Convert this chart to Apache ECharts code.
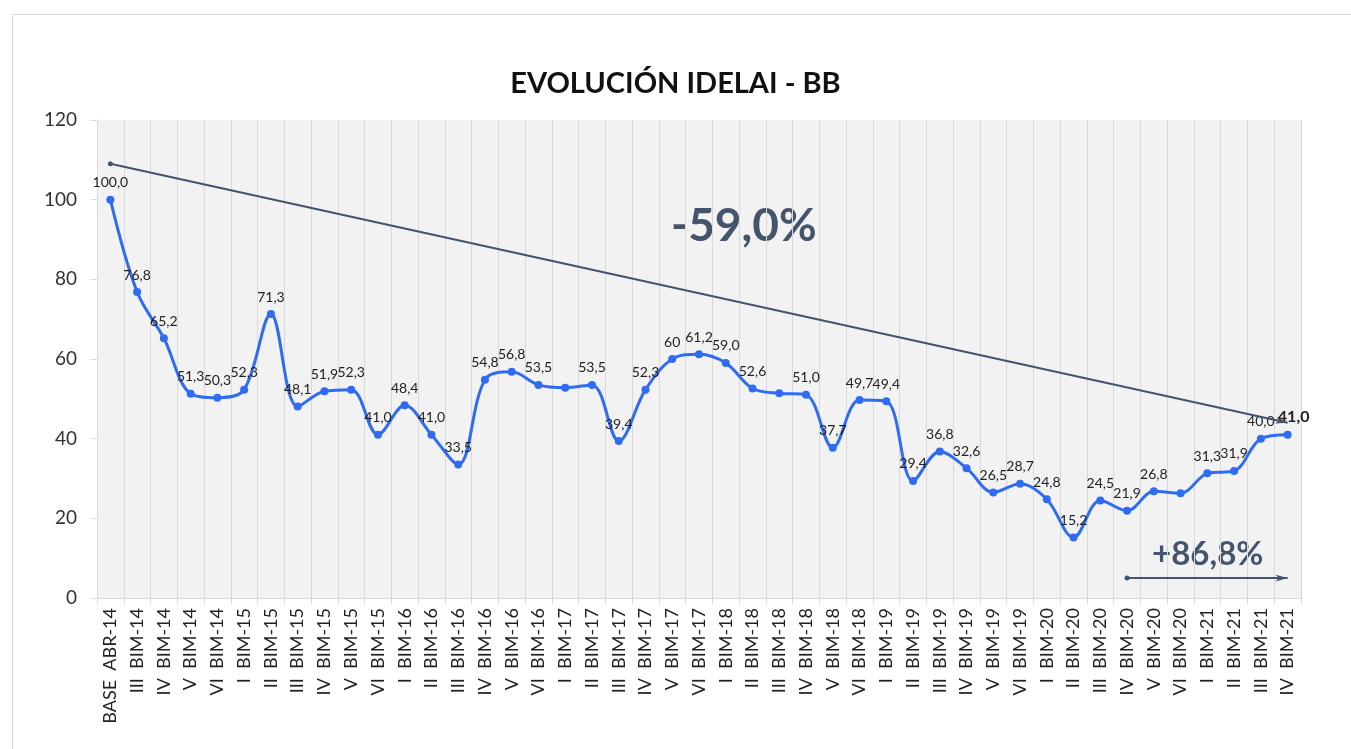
<!DOCTYPE html>
<html>
<head>
<meta charset="utf-8">
<script src="https://cdn.jsdelivr.net/npm/echarts@6/dist/echarts.min.js"></script>
<style>
    html, body { margin: 0; padding: 0; background: #fff; }
    #frame { position: absolute; left: 12px; top: 14px; width: 1400px; height: 800px; border-top: 1px solid #d9d9d9; border-left: 1px solid #d9d9d9; }
    #chart { position: absolute; left: 0; top: 0; width: 1351px; height: 749px; }
</style>
</head>
<body>
<div id="frame"></div>
<div id="chart"></div>
<script>
// periodos bimestrales
var categories = [
    'BASE  ABR-14', 'III  BIM-14', 'IV  BIM-14', 'V  BIM-14', 'VI  BIM-14',
    'I  BIM-15', 'II  BIM-15', 'III  BIM-15', 'IV  BIM-15', 'V  BIM-15', 'VI  BIM-15',
    'I  BIM-16', 'II  BIM-16', 'III  BIM-16', 'IV  BIM-16', 'V  BIM-16', 'VI  BIM-16',
    'I  BIM-17', 'II  BIM-17', 'III  BIM-17', 'IV  BIM-17', 'V  BIM-17', 'VI  BIM-17',
    'I  BIM-18', 'II  BIM-18', 'III  BIM-18', 'IV  BIM-18', 'V  BIM-18', 'VI  BIM-18',
    'I  BIM-19', 'II  BIM-19', 'III  BIM-19', 'IV  BIM-19', 'V  BIM-19', 'VI  BIM-19',
    'I  BIM-20', 'II  BIM-20', 'III  BIM-20', 'IV  BIM-20', 'V  BIM-20', 'VI  BIM-20',
    'I  BIM-21', 'II  BIM-21', 'III  BIM-21', 'IV  BIM-21'
];

var idelaiValues = [
    100.0, 76.8, 65.2, 51.3, 50.3,
    52.3, 71.3, 48.1, 51.9, 52.3, 41.0,
    48.4, 41.0, 33.5, 54.8, 56.8, 53.5,
    52.8, 53.5, 39.4, 52.3, 60.0, 61.2,
    59.0, 52.6, 51.4, 51.0, 37.7, 49.7,
    49.4, 29.4, 36.8, 32.6, 26.5, 28.7,
    24.8, 15.2, 24.5, 21.9, 26.8, 26.3,
    31.3, 31.9, 40.0, 41.0
];

// puntos sin etiqueta en el original
var hiddenLabels = [17, 25, 40];

var yTicks = { min: 0, max: 120, interval: 20 };

// flechas de variacion [indice, valor]
var trendFrom = [0, 109];
var trendTo = [44, 44];
var recoveryFrom = [38, 5];
var recoveryTo = [44, 5];

var totalChange = '-59,0%';
var recoveryChange = '+86,8%';

var lastIndex = idelaiValues.length - 1;
var seriesData = idelaiValues.map(function (v, i) {
    var item = { value: v };
    if (hiddenLabels.indexOf(i) !== -1) {
        item.label = { show: false };
    }
    if (i === lastIndex) {
        item.label = { fontWeight: 'bold', fontSize: 16, offset: [6, 0] };
    }
    return item;
});

function fmt(v) {
    var s = v.toFixed(1).replace('.', ',');
    return s === '60,0' ? '60' : s;
}

var font = 'Lato, "Open Sans", sans-serif';

var chart = echarts.init(document.getElementById('chart'));
chart.setOption({
    animation: false,
    title: {
        text: 'EVOLUCIÓN IDELAI - BB',
        left: 'center',
        top: 64,
        textStyle: { fontFamily: font, fontSize: 29, fontWeight: 'bold', color: '#111' }
    },
    grid: {
        left: 97, right: 50, top: 120, bottom: 151,
        show: true, backgroundColor: '#f2f2f2', borderWidth: 0
    },
    xAxis: {
        type: 'category',
        data: categories,
        boundaryGap: true,
        axisLine: { lineStyle: { color: '#d9d9d9' } },
        axisTick: { show: true, length: 6, lineStyle: { color: '#d9d9d9' } },
        splitLine: { show: true, lineStyle: { color: '#d9d9d9', width: 1 } },
        axisLabel: {
            interval: 0, rotate: 90, margin: 10,
            fontFamily: font, fontSize: 18, color: '#222'
        }
    },
    yAxis: {
        type: 'value',
        min: yTicks.min, max: yTicks.max, interval: yTicks.interval,
        axisLine: { show: true, lineStyle: { color: '#d9d9d9' } },
        axisTick: { show: true, length: 6, lineStyle: { color: '#d9d9d9' } },
        splitLine: { show: false },
        axisLabel: { fontFamily: font, fontSize: 19, color: '#333', margin: 20 }
    },
    series: [{
        type: 'line',
        data: seriesData,
        smooth: 0.35,
        symbol: 'circle',
        symbolSize: 8,
        itemStyle: { color: '#2f6cf2' },
        lineStyle: { color: '#2f6cf2', width: 3 },
        label: {
            show: true, position: 'top', distance: 6,
            fontFamily: font, fontSize: 14, color: '#222',
            formatter: function (p) { return fmt(p.value); }
        },
        markLine: {
            silent: true,
            animation: false,
            label: { show: false },
            lineStyle: { color: '#44546a', width: 2, type: 'solid' },
            symbolSize: [5, 12],
            data: [
                [{ coord: trendFrom, symbol: 'circle' }, { coord: trendTo, symbol: 'arrow' }],
                [{ coord: recoveryFrom, symbol: 'circle' }, { coord: recoveryTo, symbol: 'arrow' }]
            ]
        }
    }],
    graphic: [
        {
            type: 'text', left: 671, top: 203,
            style: { text: totalChange, fontFamily: font, fontSize: 46, fontWeight: 'bold', fill: '#44546a' }
        },
        {
            type: 'text', left: 1152, top: 538,
            style: { text: recoveryChange, fontFamily: font, fontSize: 33, fontWeight: 'bold', fill: '#44546a' }
        }
    ]
});
</script>
</body>
</html>
